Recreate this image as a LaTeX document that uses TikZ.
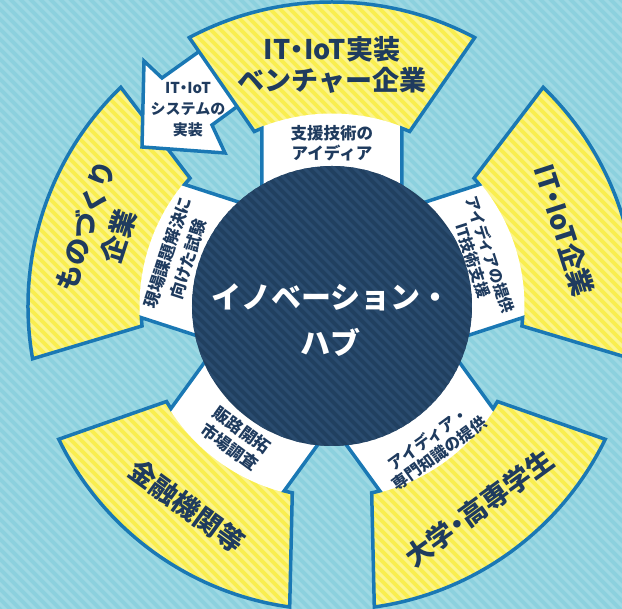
\documentclass[tikz,border=0pt]{standalone}
\usepackage{fontspec}
\setmainfont{Noto Sans CJK JP}[BoldFont={Noto Sans CJK JP Black}]
\definecolor{bgc}{HTML}{8CD1DE}
\definecolor{bgs}{HTML}{9FD9E4}
\definecolor{ycol}{HTML}{F9EE50}
\definecolor{ystr}{HTML}{FCF58E}
\definecolor{nav}{HTML}{214060}
\definecolor{navs}{HTML}{2A4C70}
\definecolor{outc}{HTML}{1A78B4}
\definecolor{tcol}{HTML}{1F3B5E}
\newcommand\ndot{\kern-.25em・\kern-.25em}
\newcommand\stripes[1]{\foreach \c in {-640,-630,...,600}{\draw[#1,line width=3pt] ({\c-320},320) -- ({\c+340},-340);}}
\newcommand\ypath{(-24:191pt) -- (-28:304pt) arc[start angle=-28,end angle=28,radius=304pt] -- (24:191pt) arc[start angle=24,end angle=-24,radius=191pt] -- cycle}
\newcommand\sector[1]{%
  \fill[ycol,rotate=#1] \ypath;
  \begin{scope}\clip[rotate=#1] \ypath; \stripes{ystr}\end{scope}
  \fill[white,rotate=#1] (100pt,-70pt) -- (179.3pt,-70pt) arc[start angle=-21.32,end angle=21.32,radius=192.5pt] -- (100pt,70pt) -- cycle;
  \draw[outl,rotate=#1] (110pt,-70pt) -- (177.7pt,-70pt) arc[start angle=-21.5,end angle=-24,radius=191pt] -- (-28:304pt) arc[start angle=-28,end angle=28,radius=304pt] -- (24:191pt) arc[start angle=24,end angle=21.5,radius=191pt] -- (110pt,70pt);
}
\tikzset{
  outl/.style={draw=outc,line width=3.5pt,line join=miter},
  big/.style={text=tcol,font=\fontsize{27}{31}\selectfont\bfseries,align=center,inner sep=0pt},
  small/.style={text=tcol,font=\fontsize{16.5}{20}\selectfont\bfseries,align=center,inner sep=0pt}
}
\begin{document}
\begin{tikzpicture}[x=1pt,y=1pt]
\useasboundingbox (-332,-303) rectangle (290,306);
\clip (-332,-303) rectangle (290,306);
\fill[bgc] (-332,-303) rectangle (290,306);
\stripes{bgs}
% sectors
\sector{162}
% small arrow
\fill[white] (-128,258) -- (-170,228) -- (-188,245) -- (-190,159) -- (-107,153) -- (-120,181) -- (-90,203) -- cycle;
\draw[outl] (-128,258) -- (-170,228) -- (-188,245) -- (-190,159) -- (-107,153) -- (-120,181) -- (-90,203);
\sector{90}
\sector{18}
\sector{-54}
\sector{-126}
% hub
\fill[nav] (0,0) circle (140pt);
\begin{scope}\clip (0,0) circle (140pt); \stripes{navs}\end{scope}
\node[white,font=\fontsize{30}{46}\selectfont\bfseries,align=center,inner sep=0pt] (hub) at (-1,-14) {イノベーション・\\ハブ};
% outer labels
\node[big] (venture) at (90:241pt) {IT\ndot IoT実装\\ベンチャー企業};
\node[big,rotate=-72] (itiot) at (18:244pt) {IT\ndot IoT企業};
\node[big,rotate=36] (univ) at (-54:250pt) {大学\ndot 高専学生};
\node[big,rotate=-36] (fin) at (-126:247pt) {金融機関等};
\node[big,rotate=72,font=\fontsize{27}{35}\selectfont\bfseries] (mono) at (162:242pt) {ものづくり\\企業};
% band labels
\node[small] (b1) at (90:163pt) {支援技術の\\アイディア};
\node[small,rotate=-72,font=\fontsize{15.5}{18}\selectfont\bfseries] (b2) at (18:157pt) {アイディアの提供\\IT技術支援};
\node[small,rotate=36,font=\fontsize{16}{18.5}\selectfont\bfseries] (b3) at (-54:173pt) {アイディア・\\専門知識の提供};
\node[small,rotate=-36,font=\fontsize{16.5}{21}\selectfont\bfseries] (b4) at (-126:164pt) {販路開拓\\市場調査};
\node[small,rotate=72,font=\fontsize{16.5}{22}\selectfont\bfseries] (b5) at (162:162pt) {現場課題解決に\\向けた試験};
% arrow label
\node[small,font=\fontsize{15}{21}\selectfont\bfseries] (arr) at (-144,196) {IT\ndot IoT\\システムの\\実装};
\end{tikzpicture}
\end{document}
